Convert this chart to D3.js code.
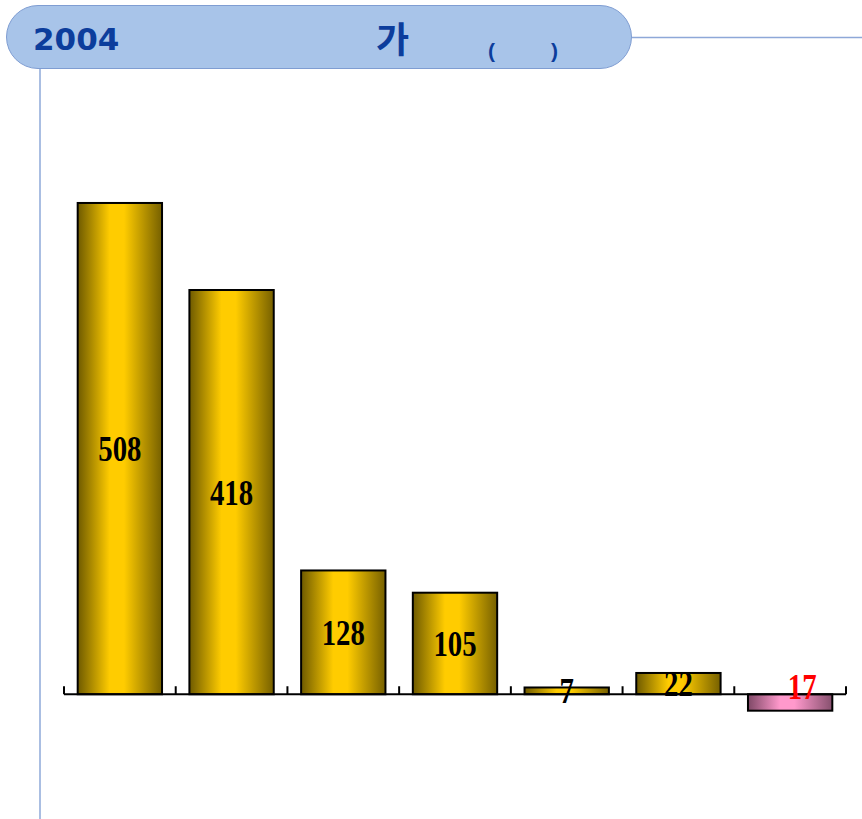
<!DOCTYPE html>
<html>
<head>
<meta charset="utf-8">
<script src="https://cdn.jsdelivr.net/npm/d3@7"></script>
<style>
  body { margin: 0; background: #fff; }
  svg { display: block; }
</style>
</head>
<body>
<svg id="chart" width="862" height="819"></svg>
<script>
// data
var categories = ["c1", "c2", "c3", "c4", "c5", "c6", "c7"];
var values = [508, 418, 128, 105, 7, 22, -17];
var titleYear = "2004";
var titleWord = "가";
var titleParen = ["(", ")"];

var svg = d3.select("#chart"),
    margin = { top: 114, right: 16, bottom: 0, left: 64 },
    width = 862 - margin.left - margin.right,
    height = 819 - margin.top - margin.bottom;

var defs = svg.append("defs");

function addGradient(id, edgeL, mid, edgeR) {
    var grad = defs.append("linearGradient")
        .attr("id", id)
        .attr("x1", "0%").attr("x2", "100%")
        .attr("y1", "0%").attr("y2", "0%");
    grad.append("stop").attr("offset", "0%").attr("stop-color", edgeL);
    grad.append("stop").attr("offset", "38%").attr("stop-color", mid);
    grad.append("stop").attr("offset", "55%").attr("stop-color", mid);
    grad.append("stop").attr("offset", "100%").attr("stop-color", edgeR);
}
addGradient("gold", "#6e5a00", "#ffcc00", "#766000");
addGradient("pink", "#7e4866", "#ff99cc", "#86506e");

// title frame
svg.append("line")
    .attr("x1", 632).attr("x2", 862)
    .attr("y1", 37.5).attr("y2", 37.5)
    .attr("stroke", "#8ea8d8").attr("stroke-width", 1.5);

svg.append("line")
    .attr("x1", 40).attr("x2", 40)
    .attr("y1", 69).attr("y2", 819)
    .attr("stroke", "#8ea8d8").attr("stroke-width", 1.5);

svg.append("rect")
    .attr("x", 6.5).attr("y", 5.5)
    .attr("width", 625).attr("height", 63)
    .attr("rx", 31.5).attr("ry", 31.5)
    .attr("fill", "#a8c4e9")
    .attr("stroke", "#7f9dd2").attr("stroke-width", 1);

svg.append("text")
    .attr("x", 33).attr("y", 50)
    .attr("font-family", "DejaVu Sans, sans-serif")
    .attr("font-weight", "bold")
    .attr("font-size", 31)
    .attr("fill", "#0c3d9c")
    .text(titleYear);

svg.append("text")
    .attr("x", 376).attr("y", 53)
    .attr("font-family", "Noto Sans CJK KR, sans-serif")
    .attr("font-weight", "bold")
    .attr("font-size", 36)
    .attr("fill", "#0c3d9c")
    .text(titleWord);

svg.selectAll(".paren")
    .data(titleParen)
    .enter().append("text")
    .attr("class", "paren")
    .attr("x", function (d, i) { return i === 0 ? 488 : 551; })
    .attr("y", 58)
    .attr("font-family", "Liberation Sans, Arial, sans-serif")
    .attr("font-weight", "bold")
    .attr("font-size", 21)
    .attr("fill", "#0c3d9c")
    .text(function (d) { return d; });

// scales
var x = d3.scaleBand()
    .domain(categories)
    .range([0, width])
    .paddingInner(0.245)
    .paddingOuter(0.1225);

var xTicks = d3.scaleBand()
    .domain(categories)
    .range([0, width]);

var y = d3.scaleLinear()
    .domain([-129, 600])
    .range([height, 0]);

var g = svg.append("g")
    .attr("transform", "translate(" + margin.left + "," + margin.top + ")");

// bars
g.selectAll(".bar")
    .data(values)
    .enter().append("rect")
    .attr("class", "bar")
    .attr("x", function (d, i) { return x(categories[i]); })
    .attr("y", function (d) { return y(Math.max(0, d)); })
    .attr("width", x.bandwidth())
    .attr("height", function (d) { return Math.abs(y(d) - y(0)); })
    .attr("fill", function (d) { return d < 0 ? "url(#pink)" : "url(#gold)"; })
    .attr("stroke", "#000")
    .attr("stroke-width", 2);

// axis
var axisY = y(0);
g.append("line")
    .attr("x1", 0).attr("x2", width)
    .attr("y1", axisY).attr("y2", axisY)
    .attr("stroke", "#000").attr("stroke-width", 2);

var tickPos = categories.map(function (c) { return xTicks(c); }).concat([width]);
g.selectAll(".tick")
    .data(tickPos)
    .enter().append("line")
    .attr("class", "tick")
    .attr("x1", function (d) { return d; })
    .attr("x2", function (d) { return d; })
    .attr("y1", axisY)
    .attr("y2", axisY - 8)
    .attr("stroke", "#000").attr("stroke-width", 2);

// labels
g.selectAll(".label")
    .data(values)
    .enter().append("text")
    .attr("class", "label")
    .attr("text-anchor", "middle")
    .attr("font-family", "Liberation Serif, Times New Roman, serif")
    .attr("font-weight", "bold")
    .attr("font-size", 36)
    .attr("fill", function (d) { return d < 0 ? "#ff0000" : "#000"; })
    .attr("transform", function (d, i) {
        var cx = x(categories[i]) + x.bandwidth() / 2 + (d < 0 ? 12 : 0);
        var cy = d < 0 ? axisY + 5 : (y(d) + y(0)) / 2 + 12.5;
        return "translate(" + cx + "," + cy + ") scale(0.8,1)";
    })
    .text(function (d) { return Math.abs(d); });
</script>
</body>
</html>
